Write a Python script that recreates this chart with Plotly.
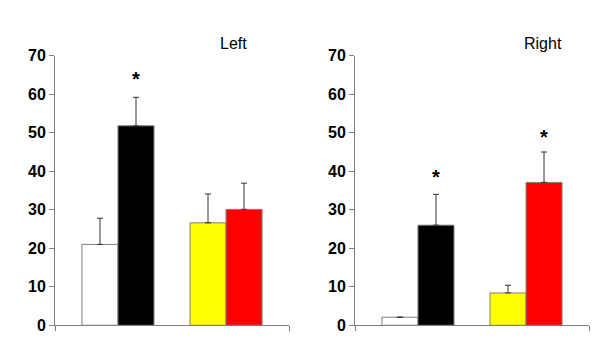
import plotly.graph_objects as go

groups = ["A", "B"]
# first bar of each group (white, yellow) and second bar (black, red)
left_first = [21.0, 26.6]
left_first_err = [6.8, 7.5]
left_second = [51.8, 30.1]
left_second_err = [7.4, 6.8]

right_first = [2.1, 8.4]
right_first_err = [None, 2.0]
right_second = [26.0, 37.1]
right_second_err = [8.0, 7.9]

first_colors = ["#ffffff", "#ffff00"]
second_colors = ["#000000", "#ff0000"]

panel_titles = ["Left", "Right"]
y_ticks = [0, 10, 20, 30, 40, 50, 60, 70]
y_ticktext = ["<b>%d</b>" % v for v in y_ticks]

# significance markers
star_panel = ["left", "right", "right"]
star_group = ["A", "A", "B"]
star_value = [64.0, 38.4, 49.0]

fig = go.Figure()

def add_pair(first, ferr, second, serr, xa, ya):
    fig.add_trace(go.Bar(
        x=groups, y=first, xaxis=xa, yaxis=ya, offsetgroup="1",
        marker=dict(color=first_colors, line=dict(color="#7f7f7f", width=1)),
        error_y=dict(type="data", array=ferr, arrayminus=[0, 0], symmetric=False,
                     color="#333333", thickness=1, width=3),
        showlegend=False, hoverinfo="y"))
    fig.add_trace(go.Bar(
        x=groups, y=second, xaxis=xa, yaxis=ya, offsetgroup="2",
        marker=dict(color=second_colors, line=dict(color="#7f7f7f", width=1)),
        error_y=dict(type="data", array=serr, arrayminus=[0, 0], symmetric=False,
                     color="#333333", thickness=1, width=3),
        showlegend=False, hoverinfo="y"))

add_pair(left_first, left_first_err, left_second, left_second_err, "x", "y")
add_pair(right_first, right_first_err, right_second, right_second_err, "x2", "y2")

xr = [-0.583, 1.583]
axis_x = dict(range=xr, showgrid=False, zeroline=False, showline=True,
              linecolor="#7f7f7f", linewidth=1, ticks="outside",
              tickmode="array", tickvals=xr, ticktext=["", ""], ticklen=5,
              tickcolor="#7f7f7f", fixedrange=True, automargin=False)
axis_y = dict(range=[0, 70], tickmode="array", tickvals=y_ticks, ticktext=y_ticktext,
              showgrid=False, zeroline=False,
              showline=True, linecolor="#7f7f7f", linewidth=1, ticks="outside",
              ticklen=5, tickcolor="#7f7f7f",
              tickfont=dict(family="Liberation Sans", size=16, color="#000000"),
              fixedrange=True, automargin=False)

W, H = 600, 349
OFFX, OFFY = 8, 8
def dx(px):
    return (px - OFFX) / W
def dy(py):
    return 1 - (py - OFFY) / H

fig.update_layout(
    template="none",
    width=W, height=H,
    margin=dict(l=0, r=0, t=0, b=0, pad=0),
    paper_bgcolor="white", plot_bgcolor="white",
    barmode="group", bargap=0.333, bargroupgap=0,
    xaxis=dict(axis_x, domain=[dx(55), dx(289)], anchor="y"),
    yaxis=dict(axis_y, domain=[dy(325.3), dy(55.7)], anchor="x"),
    xaxis2=dict(axis_x, domain=[dx(355), dx(589)], anchor="y2"),
    yaxis2=dict(axis_y, domain=[dy(325.3), dy(55.7)], anchor="x2"),
)

# panel titles
title_pos = [(233.6, 43), (543, 43)]
for (px, py), t in zip(title_pos, panel_titles):
    fig.add_annotation(x=dx(px), y=dy(py), xref="paper", yref="paper",
                       xanchor="center", yanchor="middle",
                       text=t, showarrow=False,
                       font=dict(family="Liberation Sans", size=16, color="#000000"))

# significance asterisks over the second bar of a group
for p, g, v in zip(star_panel, star_group, star_value):
    xa, ya = ("x", "y") if p == "left" else ("x2", "y2")
    fig.add_annotation(x=g, y=v, xref=xa, yref=ya, xshift=18, text="<b>*</b>",
                       xanchor="center", yanchor="middle",
                       showarrow=False,
                       font=dict(family="Liberation Sans", size=20, color="#000000"))

fig.write_html("out.html")
